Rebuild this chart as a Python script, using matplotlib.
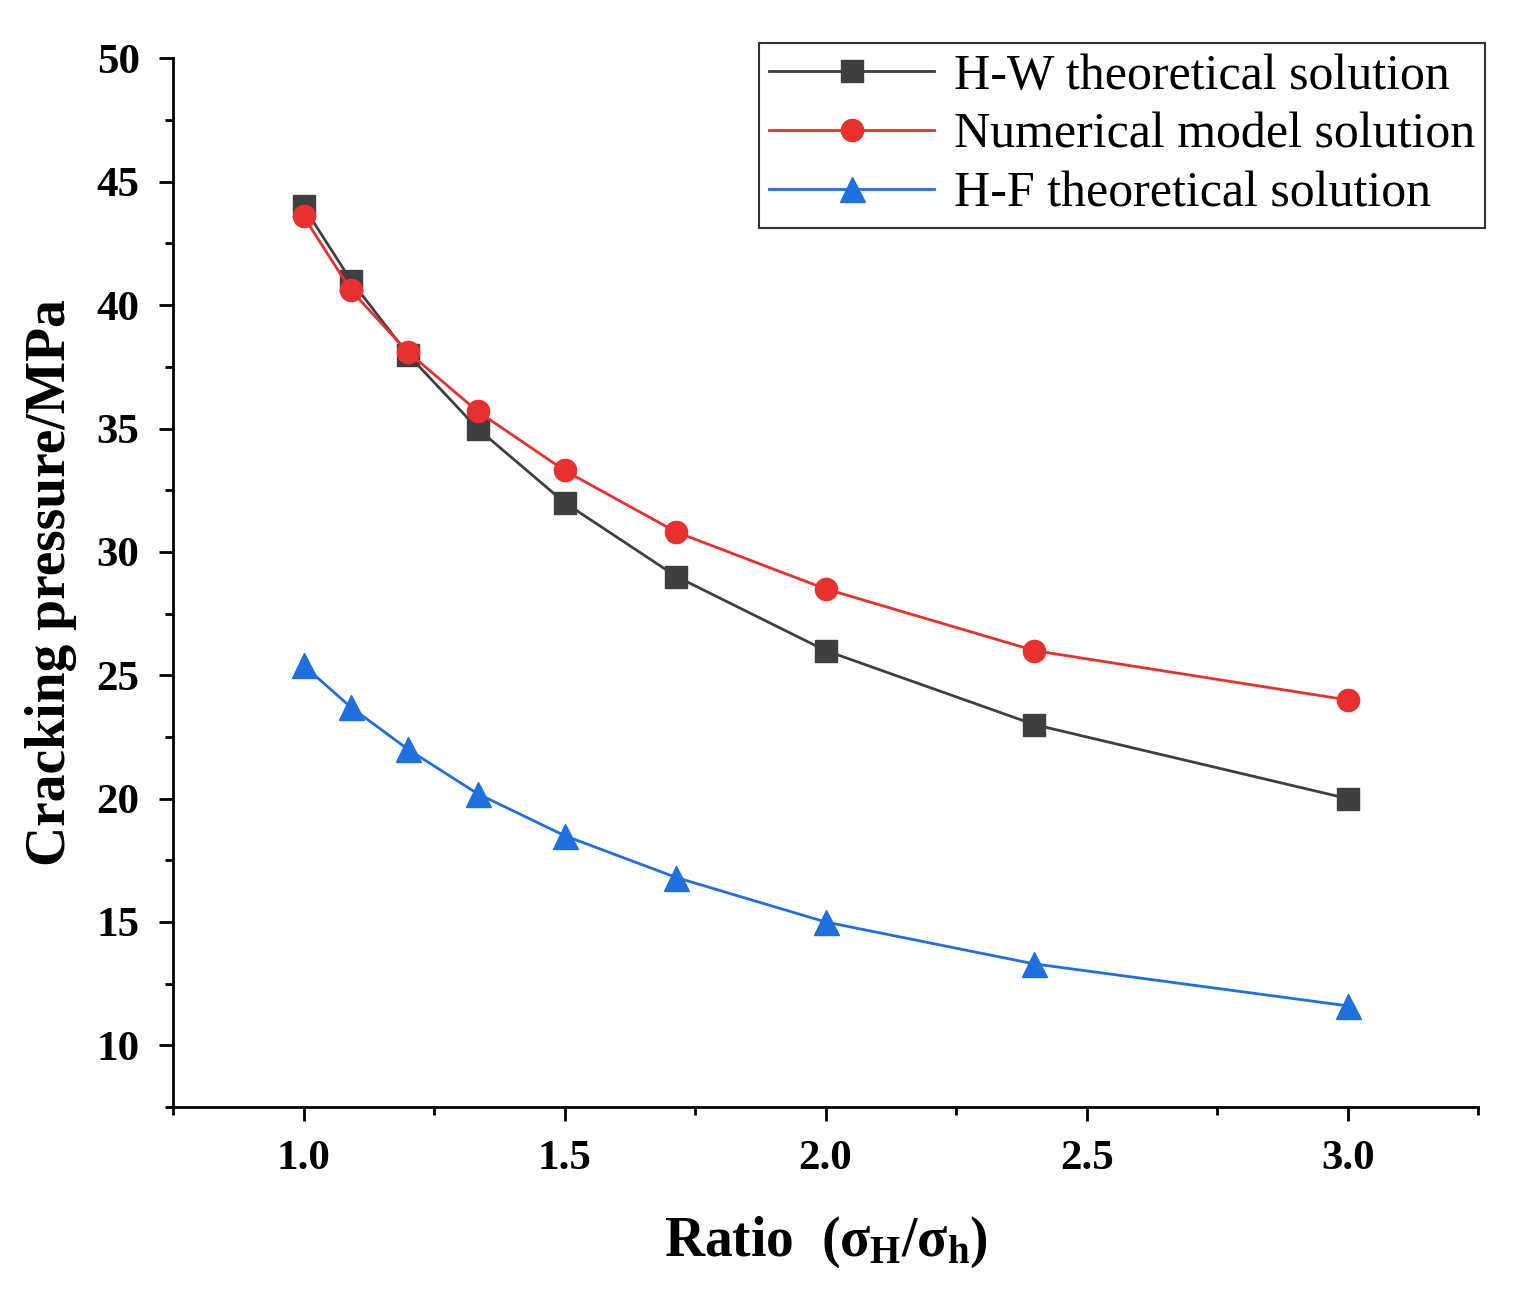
import matplotlib.pyplot as plt
from matplotlib.ticker import MultipleLocator

plt.rcParams['font.family'] = ['Liberation Serif', 'DejaVu Serif']
plt.rcParams['font.weight'] = 'bold'
plt.rcParams['mathtext.fontset'] = 'custom'
plt.rcParams['mathtext.rm'] = 'Liberation Serif:bold'
plt.rcParams['mathtext.it'] = 'Liberation Serif:bold'
plt.rcParams['mathtext.bf'] = 'Liberation Serif:bold'

# stress ratio sigma_H / sigma_h
ratio = [1.0, 1.0909, 1.2, 1.3333, 1.5, 1.7143, 2.0, 2.4, 3.0]
hw_solution = [44.0, 41.0, 38.0, 35.0, 32.0, 29.0, 26.0, 23.0, 20.0]
numerical_solution = [43.6, 40.6, 38.1, 35.7, 33.3, 30.8, 28.5, 26.0, 24.0]
hf_solution = [25.4, 23.7, 22.0, 20.2, 18.5, 16.8, 15.0, 13.3, 11.6]

fig = plt.figure(figsize=(15.35, 12.99), dpi=100)
ax = fig.add_axes([0.1127, 0.1478, 0.8503, 0.8072])

ax.plot(ratio, hw_solution, '-s', color='#3f3f3f', markersize=16, linewidth=2, label='H-W theoretical solution')
ax.plot(ratio, numerical_solution, '-o', color='#e8302f', markersize=16, linewidth=2, label='Numerical model solution')
ax.plot(ratio, hf_solution, '-^', color='#1f6fe0', markersize=18, linewidth=2, label='H-F theoretical solution')

ax.set_xlim(0.75, 3.25)
ax.set_ylim(7.5, 50)
ax.xaxis.set_major_locator(MultipleLocator(0.5))
ax.xaxis.set_minor_locator(MultipleLocator(0.25))
ax.yaxis.set_major_locator(MultipleLocator(5))
ax.yaxis.set_minor_locator(MultipleLocator(2.5))
for s in ['top', 'right']:
    ax.spines[s].set_visible(False)
for s in ['left', 'bottom']:
    ax.spines[s].set_linewidth(2)
ax.tick_params(which='major', direction='out', length=10, width=2, labelsize=31, pad=14)
ax.tick_params(which='minor', direction='out', length=6, width=2)

ax.set_xlabel(r'Ratio  ($\sigma_H/\sigma_h$)', fontsize=40, fontweight='bold', labelpad=26)
ax.set_ylabel('Cracking pressure/MPa', fontsize=40, fontweight='bold', labelpad=14)

leg = fig.legend(loc='upper right', bbox_to_anchor=(0.984, 0.986), fontsize=36, frameon=True,
                 fancybox=False, edgecolor='black', handlelength=3.3, borderpad=0.2,
                 labelspacing=0.25, handletextpad=0.4, prop={'weight': 'normal', 'size': 36})
leg.get_frame().set_linewidth(1.5)

fig.savefig('out.png')
